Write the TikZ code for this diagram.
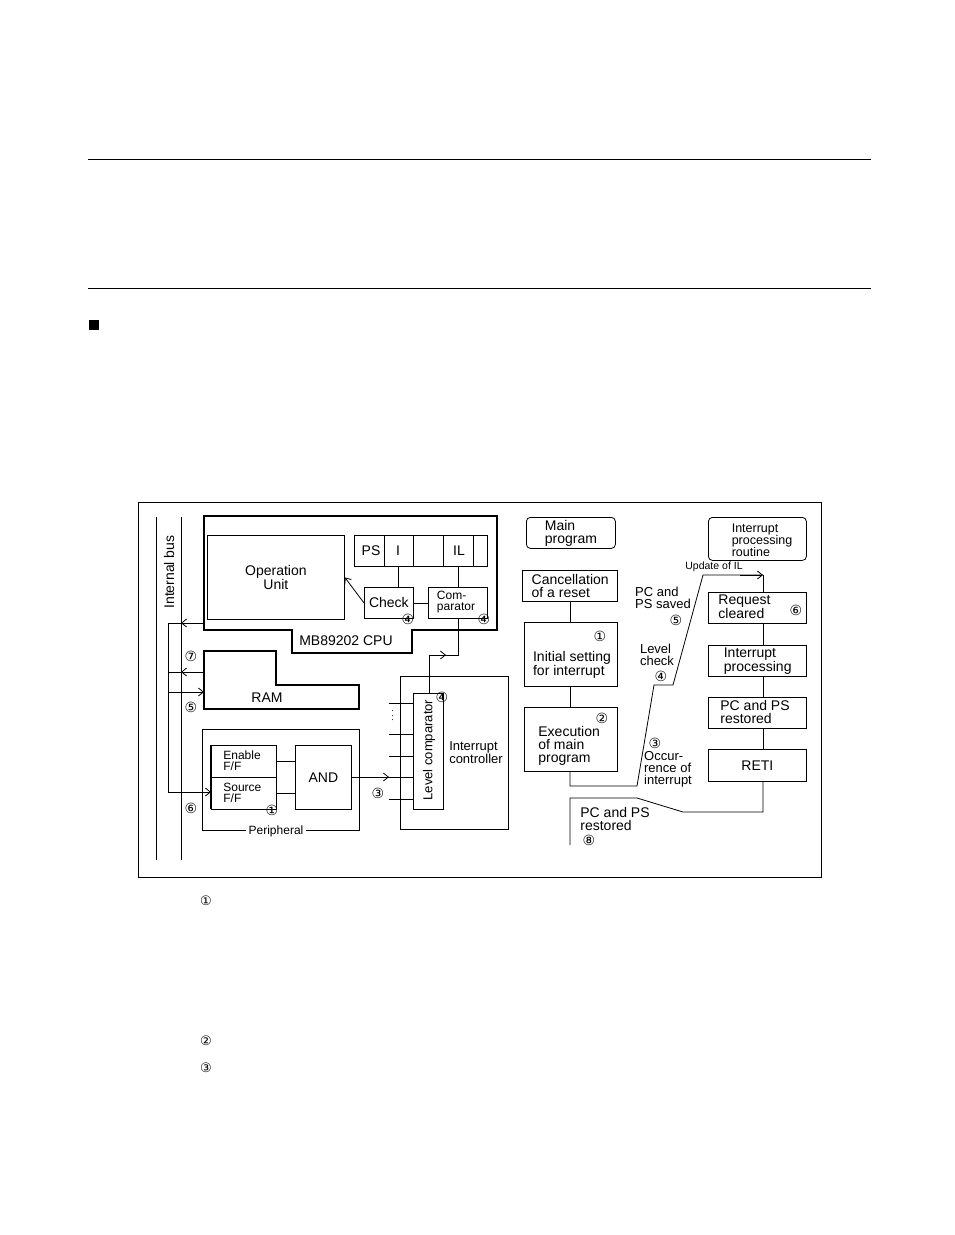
\documentclass[tikz,border=0pt]{standalone}
\usepackage{fontspec}
\setmainfont{Liberation Sans}
\newfontfamily\djvfont{DejaVu Sans}
\usetikzlibrary{arrows.meta}
\begin{document}
\begin{tikzpicture}[x=1pt,y=-1pt,line width=0.8pt,
  box/.style={draw,line width=0.8pt},
  tbox/.style={draw,line width=1.4pt},
  lbl/.style={font=\fontsize{14}{13}\selectfont,align=left,inner sep=0pt},
  slbl/.style={font=\fontsize{12}{11}\selectfont,align=left,inner sep=0pt},
  num/.style={font=\djvfont\fontsize{14}{14}\selectfont,inner sep=0pt},
  arr/.style={-{Straight Barb[length=5pt,width=8pt]}}]
\useasboundingbox (0,0) rectangle (954,1235);
\draw[line width=0.6pt] (88,159) -- (871,159);
\draw[line width=0.6pt] (88,288) -- (871,288);
\fill (89,320) rectangle (99,330);
\draw[line width=1pt] (138,502) rectangle (821,877);
% bus
\draw (156,517) -- (156,860); \draw (181,517) -- (181,860);
\node[lbl,rotate=90] (bus) at (169,572) {Internal bus};
% CPU
\draw[line width=1.4pt] (204,516) -- (497,516) -- (497,630) -- (412,630) -- (412,653) -- (292,653) -- (292,630) -- (204,630) -- cycle;
\node[lbl] (cpul) at (346,641) {MB89202 CPU};
\node[box,minimum width=137,minimum height=84,anchor=north west,lbl,align=center] (ou) at (207,535) {Operation\\Unit};
\draw (354,535) rectangle (487,566);
\foreach \x in {384,413,443,473} \draw (\x,535) -- (\x,566);
\node[lbl] (ps) at (371,551) {PS};
\node[lbl] (ri) at (398,551) {I};
\node[lbl] (il) at (459,551) {IL};
\node[box,minimum width=49,minimum height=31,anchor=north west,lbl] (chk) at (364,587) {Check};
\node[box,minimum width=59,minimum height=31,anchor=north west] (cmp) at (428,587) {};
\node[slbl] at (456,602) {Com-\\parator};
\draw (398,566) -- (398,587);
\draw (458,566) -- (458,587);
\draw (chk.east) -- (cmp.west);
\draw[arr] (chk.west) -- (ou.east);
\node[num] at (408,619) {④};
\node[num] at (484,619) {④};
% bus arrow from CPU
\draw (204,623) -- (168,623) -- (168,792);
\draw[arr] (204,623) -- (181,623);
% RAM
\draw[line width=1.4pt] (204,651) -- (276,651) -- (276,685) -- (359,685) -- (359,709) -- (204,709) -- cycle;
\node[lbl] (ram) at (267,698) {RAM};
\draw (168,672) -- (204,672); \draw[arr] (204,672) -- (181,672);
\draw[arr] (168,692) -- (204,692);
\node[num] at (191,656) {⑦};
\node[num] at (191,707) {⑤};
% peripheral
\draw (276,830) -- (359,830) -- (359,729) -- (202,729) -- (202,830) -- (276,830);
\node[lbl,fill=white,inner sep=3pt,font=\fontsize{12}{12}\selectfont] (per) at (276,831) {Peripheral};
\draw (211,745) rectangle (276,809); \draw[line width=1.6pt] (211,745) -- (211,809);
\draw (211,777) -- (276,777);
\node[slbl,anchor=west] at (223,761) {Enable\\F/F};
\node[slbl,anchor=west] at (223,793) {Source\\F/F};
\node[num] at (272,810) {①};
\node[box,minimum width=56,minimum height=64,anchor=north west,lbl] (and) at (295,745) {AND};
\draw (276,761) -- (295,761); \draw (276,793) -- (295,793);
\draw[arr] (168,792) -- (211,792);
\node[num] at (191,808) {⑥};
% interrupt controller
\draw (400,676) rectangle (508,829);
\node[box,minimum width=30,minimum height=116,anchor=north west] (lc) at (413,693) {};
\node[slbl,rotate=90,font=\fontsize{13}{13}\selectfont] at (429,750) {Level comparator};
\node[slbl,font=\fontsize{13}{13}\selectfont] at (476,753) {Interrupt\\controller};
\node[num] at (442,697) {④};
\foreach \y in {703,734,756,799} \draw (389,\y) -- (413,\y);
\draw (351,777) -- (413,777); \draw[arr] (351,777) -- (389,777);
\node[font=\fontsize{10}{10}\selectfont,rotate=90] at (393,716) {$\cdots$};
\node[num] at (378,793) {③};
\draw (429,693) -- (429,655) -- (458,655) -- (458,618);
\draw[arr] (429,655) -- (446,655);
% right flow
\node[draw,rounded corners=4pt,minimum width=89,minimum height=31,anchor=north west,lbl,align=left] (mp) at (526,517) {Main\\program};
\node[tbox,minimum width=95,minimum height=31,anchor=north west,lbl] (cr) at (522,570) {Cancellation\\of a reset};
\node[box,minimum width=93,minimum height=64,anchor=north west] (is) at (524,622) {};
\node[lbl] at (572,665) {Initial setting\\for interrupt};
\node[num] at (600,636) {①};
\node[box,minimum width=93,minimum height=64,anchor=north west] (ex) at (524,707) {};
\node[lbl,anchor=west] at (538,746) {Execution\\of main\\program};
\node[num] at (602,718) {②};
\draw (570,601) -- (570,622); \draw (570,686) -- (570,707);
\draw (570,771) -- (570,786) -- (637,786) -- (654,685) -- (673,685) -- (703,575) -- (763,575);
\draw[arr] (740,575) -- (763,575);
\node[draw,rounded corners=4pt,minimum width=98,minimum height=43,anchor=north west] (ipr) at (708,517) {};
\node[slbl,font=\fontsize{12.5}{12}\selectfont] at (762,540) {Interrupt\\processing\\routine};
\node[font=\fontsize{10.5}{10}\selectfont,inner sep=0pt] at (714,567) {Update of IL};
\node[tbox,minimum width=98,minimum height=31,anchor=north west] (rc) at (708,592) {};
\node[lbl,anchor=west] at (718,607) {Request\\cleared};
\node[num] at (796,610) {⑥};
\node[tbox,minimum width=98,minimum height=31,anchor=north west,lbl] (ip) at (708,645) {Interrupt\\processing};
\node[box,minimum width=98,minimum height=31,anchor=north west] (pr) at (708,697) {};
\node[lbl,anchor=west] at (720,712) {PC and PS\\restored};
\node[box,minimum width=98,minimum height=32,anchor=north west,lbl] (reti) at (708,749) {RETI};
\draw (763,575) -- (763,592);
\draw (763,623) -- (763,645); \draw (763,676) -- (763,697); \draw (763,728) -- (763,749);
\draw (763,781) -- (763,812) -- (683,812) -- (637,798) -- (570,798) -- (570,845);
\node[slbl,font=\fontsize{13}{12}\selectfont] at (663,598) {PC and\\PS saved};
\node[num] at (676,620) {⑤};
\node[slbl,font=\fontsize{13}{12}\selectfont] at (657,655) {Level\\check};
\node[num] at (661,676) {④};
\node[num] at (655,743) {③};
\node[slbl,font=\fontsize{13}{12}\selectfont] at (668,769) {Occur-\\rence of\\interrupt};
\node[lbl,anchor=west] at (580,819) {PC and PS\\restored};
\node[num] at (589,840) {⑧};
% footnote numbers
\node[num,font=\djvfont\fontsize{13}{13}\selectfont] at (206,901) {①};
\node[num,font=\djvfont\fontsize{13}{13}\selectfont] at (206,1041) {②};
\node[num,font=\djvfont\fontsize{13}{13}\selectfont] at (206,1068) {③};
\end{tikzpicture}
\end{document}
